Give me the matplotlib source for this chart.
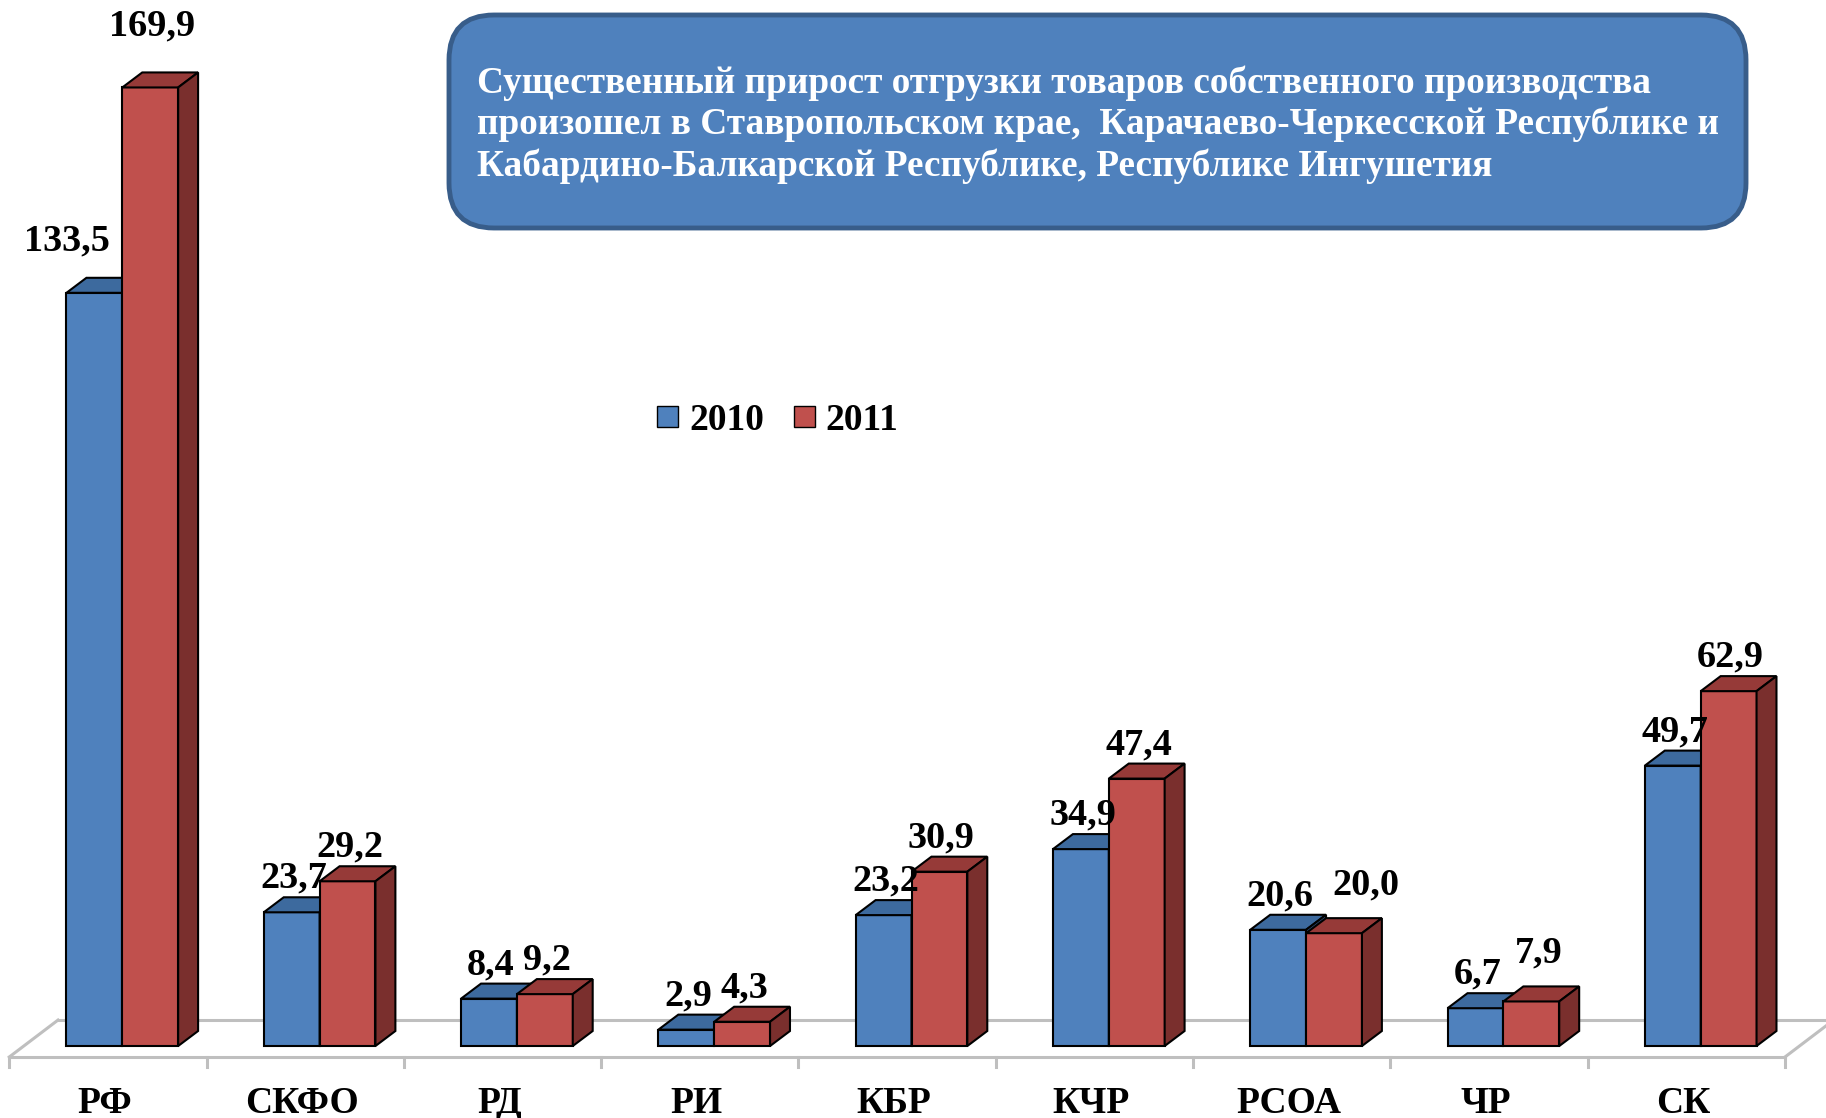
import matplotlib
matplotlib.use("Agg")
import matplotlib.pyplot as plt
from matplotlib.patches import Polygon, FancyBboxPatch, Patch

regions = ["РФ", "СКФО", "РД", "РИ", "КБР", "КЧР", "РСОА", "ЧР", "СК"]
v2010 = [133.5, 23.7, 8.4, 2.9, 23.2, 34.9, 20.6, 6.7, 49.7]
v2011 = [169.9, 29.2, 9.2, 4.3, 30.9, 47.4, 20.0, 7.9, 62.9]
labels2010 = ["133,5", "23,7", "8,4", "2,9", "23,2", "34,9", "20,6", "6,7", "49,7"]
labels2011 = ["169,9", "29,2", "9,2", "4,3", "30,9", "47,4", "20,0", "7,9", "62,9"]
title_lines = [
    "Существенный прирост отгрузки товаров собственного производства",
    "произошел в Ставропольском крае,  Карачаево-Черкесской Республике и",
    "Кабардино-Балкарской Республике, Республике Ингушетия",
]

font = "Liberation Serif"
plt.rcParams["font.family"] = [font, "DejaVu Serif"]

W, H = 1826, 1118
fig = plt.figure(figsize=(W / 100, H / 100), dpi=100)
ax = fig.add_axes([0, 0, 1, 1])
ax.set_xlim(-0.547, 8.708)
ax.set_ylim(-12.76, 185.4)
ax.axis("off")

# pseudo 3d settings
bw = 0.283
ddx, ddy = 0.101, 2.66
series = [
    (v2010, labels2010, -0.21, "#4F81BD", "#3D6A9E", "#2F5280"),
    (v2011, labels2011, -0.21 + bw, "#C0504D", "#963A38", "#7A2F2D"),
]

# floor
fy0, fy1 = -1.95, 4.6
fdx = 0.247
floor_c = "#BFBFBF"
ax.plot([-0.5, 8.5], [fy0, fy0], color=floor_c, lw=2.2, zorder=1)
ax.plot([-0.5 + fdx, 8.5 + fdx + 0.3], [fy1, fy1], color=floor_c, lw=2.2, zorder=1)
ax.plot([-0.5, -0.5 + fdx], [fy0, fy1], color=floor_c, lw=2.2, zorder=1)
ax.plot([8.5, 8.5 + fdx], [fy0, fy1], color=floor_c, lw=2.2, zorder=1)
for i in range(len(regions) + 1):
    ax.plot([i - 0.5, i - 0.5], [fy0, -3.7], color=floor_c, lw=2.2, zorder=1)

# label tweaks (dx in groups, dy in value units)
label_adj = {
    (0, 0): (-0.15, 3.2), (0, 1): (0.0, 4.9),
    (6, 1): (0.15, 2.6), (7, 1): (0.03, 2.5),
}

for s, (vals, labs, off, face, top, side) in enumerate(series):
    z = 2 + s
    for i, v in enumerate(vals):
        x0 = i + off
        ax.bar(x0, v, width=bw, align="edge", color=face, edgecolor="black",
               lw=1.5, zorder=z)
        ax.add_patch(Polygon([(x0, v), (x0 + bw, v), (x0 + bw + ddx, v + ddy), (x0 + ddx, v + ddy)],
                             closed=True, fc=top, ec="black", lw=1.5, zorder=z))
        ax.add_patch(Polygon([(x0 + bw, 0), (x0 + bw, v), (x0 + bw + ddx, v + ddy), (x0 + bw + ddx, ddy)],
                             closed=True, fc=side, ec="black", lw=1.5, zorder=z))
        adx, ady = label_adj.get((i, s), (0, 0))
        ax.text(x0 + bw / 2 + 0.01 + adx, v + 6.0 + ady, labs[i], ha="center", va="center",
                fontsize=27.5, fontweight="bold", zorder=5)

for i, r in enumerate(regions):
    ax.text(i - 0.015, -10.2, r, ha="center", va="center", fontsize=27, fontweight="bold")

# legend
handles = [Patch(facecolor=series[0][3], edgecolor="black", label="2010"),
           Patch(facecolor=series[1][3], edgecolor="black", label="2011")]
fig.legend(handles=handles, loc="center", bbox_to_anchor=(0.426, 0.624), ncol=2,
           frameon=False, handlelength=0.55, handleheight=0.45, handletextpad=0.3,
           columnspacing=0.8, prop={"family": font, "weight": "bold", "size": 27})

# title box
bx0, by0, bx1, by1 = 446, 12, 1749, 231
tax = fig.add_axes([bx0 / W, 1 - by1 / H, (bx1 - bx0) / W, (by1 - by0) / H])
tax.set_xlim(0, bx1 - bx0)
tax.set_ylim(by1 - by0, 0)
tax.axis("off")
tax.add_patch(FancyBboxPatch((3, 3), bx1 - bx0 - 6, by1 - by0 - 6,
                             boxstyle="round,pad=0,rounding_size=45",
                             fc="#4F81BD", ec="#385D8A", lw=3.5))
for k, line in enumerate(title_lines):
    tax.text(31, 93 - by0 + 41.5 * k, line, ha="left", va="baseline", color="white",
             fontsize=26.8, fontweight="bold")

fig.savefig("out.png", dpi=100)
